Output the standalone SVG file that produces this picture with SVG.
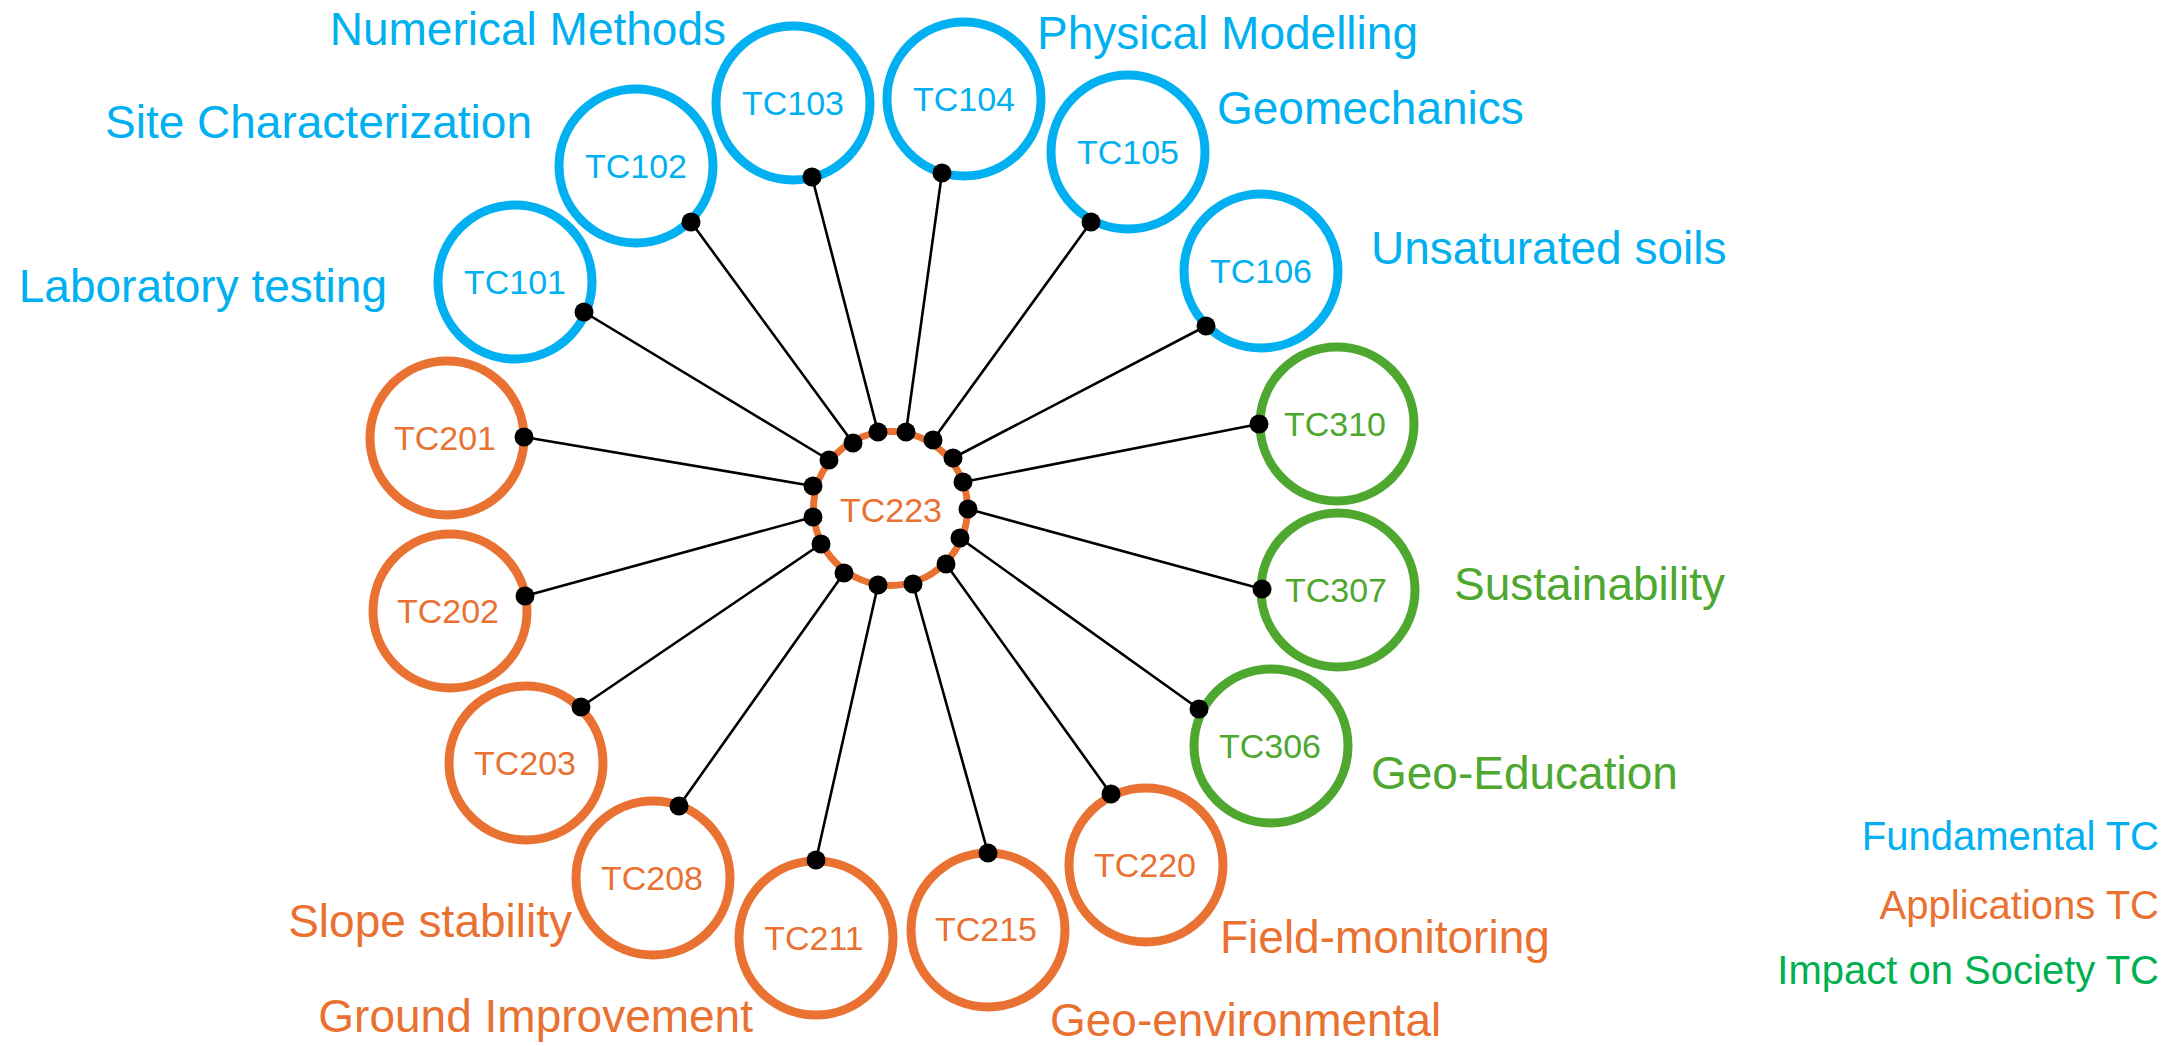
<svg xmlns="http://www.w3.org/2000/svg" width="2172" height="1046" viewBox="0 0 2172 1046">
<style>
.ring{fill:none;stroke-width:9}
.b{stroke:#00B0F0}.o{stroke:#E97132}.g{stroke:#4EA72E}
.tb{fill:#00B0F0}.to{fill:#E97132}.tg{fill:#4EA72E}.tl{fill:#00B050}
.id{font-family:"Liberation Sans",Arial,sans-serif;font-size:34px;text-anchor:middle}
.lab{font-family:"Liberation Sans",Arial,sans-serif;font-size:46px}
.leg{font-family:"Liberation Sans",Arial,sans-serif;font-size:40px;text-anchor:end}
.e{text-anchor:end}
.ln{stroke:#000;stroke-width:2.6;fill:none}
.dot{fill:#000}
</style>
<rect width="2172" height="1046" fill="#fff"/>
<g id="TC223"><circle cx="890.5" cy="508.5" r="77" fill="none" stroke="#E97132" stroke-width="7"/><text class="id to" x="891" y="522">TC223</text></g>
<g id="TC101"><circle class="ring b" cx="515" cy="282" r="77"/><text class="id tb" x="515" y="294">TC101</text></g>
<g id="TC102"><circle class="ring b" cx="636" cy="166" r="77"/><text class="id tb" x="636" y="178">TC102</text></g>
<g id="TC103"><circle class="ring b" cx="793" cy="103" r="77"/><text class="id tb" x="793" y="115">TC103</text></g>
<g id="TC104"><circle class="ring b" cx="964" cy="99" r="77"/><text class="id tb" x="964" y="111">TC104</text></g>
<g id="TC105"><circle class="ring b" cx="1128" cy="152" r="77"/><text class="id tb" x="1128" y="164">TC105</text></g>
<g id="TC106"><circle class="ring b" cx="1261" cy="271" r="77"/><text class="id tb" x="1261" y="283">TC106</text></g>
<g id="TC310"><circle class="ring g" cx="1337" cy="424" r="77"/><text class="id tg" x="1335" y="436">TC310</text></g>
<g id="TC307"><circle class="ring g" cx="1338" cy="590" r="77"/><text class="id tg" x="1336" y="602">TC307</text></g>
<g id="TC306"><circle class="ring g" cx="1271" cy="746" r="77"/><text class="id tg" x="1270" y="758">TC306</text></g>
<g id="TC220"><circle class="ring o" cx="1146" cy="865" r="77"/><text class="id to" x="1145" y="877">TC220</text></g>
<g id="TC215"><circle class="ring o" cx="988" cy="930" r="77"/><text class="id to" x="986" y="941">TC215</text></g>
<g id="TC211"><circle class="ring o" cx="816" cy="938" r="77"/><text class="id to" x="814" y="950">TC211</text></g>
<g id="TC208"><circle class="ring o" cx="653" cy="878" r="77"/><text class="id to" x="652" y="890">TC208</text></g>
<g id="TC203"><circle class="ring o" cx="526" cy="763" r="77"/><text class="id to" x="525" y="775">TC203</text></g>
<g id="TC202"><circle class="ring o" cx="450" cy="611" r="77"/><text class="id to" x="448" y="623">TC202</text></g>
<g id="TC201"><circle class="ring o" cx="447" cy="438" r="77"/><text class="id to" x="445" y="450">TC201</text></g>
<g id="connectors">
<path class="ln" d="M584 312L829 460M691 222L853 443M812 177L878 432M942 173L906 432M1091 222L933 440M1206 326L953 458M1259 424L963 482M1262 589L968 509M1199 709L960 538M1111 794L946 564M988 853L913 584M816 860L878 585M679 806L844 573M581 707L821 544M525 596L813 517M524 437L813 486"/>
<g class="dot">
<circle cx="584" cy="312" r="9.5"/><circle cx="829" cy="460" r="9.5"/>
<circle cx="691" cy="222" r="9.5"/><circle cx="853" cy="443" r="9.5"/>
<circle cx="812" cy="177" r="9.5"/><circle cx="878" cy="432" r="9.5"/>
<circle cx="942" cy="173" r="9.5"/><circle cx="906" cy="432" r="9.5"/>
<circle cx="1091" cy="222" r="9.5"/><circle cx="933" cy="440" r="9.5"/>
<circle cx="1206" cy="326" r="9.5"/><circle cx="953" cy="458" r="9.5"/>
<circle cx="1259" cy="424" r="9.5"/><circle cx="963" cy="482" r="9.5"/>
<circle cx="1262" cy="589" r="9.5"/><circle cx="968" cy="509" r="9.5"/>
<circle cx="1199" cy="709" r="9.5"/><circle cx="960" cy="538" r="9.5"/>
<circle cx="1111" cy="794" r="9.5"/><circle cx="946" cy="564" r="9.5"/>
<circle cx="988" cy="853" r="9.5"/><circle cx="913" cy="584" r="9.5"/>
<circle cx="816" cy="860" r="9.5"/><circle cx="878" cy="585" r="9.5"/>
<circle cx="679" cy="806" r="9.5"/><circle cx="844" cy="573" r="9.5"/>
<circle cx="581" cy="707" r="9.5"/><circle cx="821" cy="544" r="9.5"/>
<circle cx="525" cy="596" r="9.5"/><circle cx="813" cy="517" r="9.5"/>
<circle cx="524" cy="437" r="9.5"/><circle cx="813" cy="486" r="9.5"/>
</g>
</g>
<g id="labels">
<text class="lab tb e" x="726" y="45">Numerical Methods</text>
<text class="lab tb e" x="532" y="138">Site Characterization</text>
<text class="lab tb e" x="387" y="302">Laboratory testing</text>
<text class="lab tb" x="1037" y="49">Physical Modelling</text>
<text class="lab tb" x="1217" y="124">Geomechanics</text>
<text class="lab tb" x="1371" y="264">Unsaturated soils</text>
<text class="lab tg" x="1454" y="600">Sustainability</text>
<text class="lab tg" x="1371" y="789">Geo-Education</text>
<text class="lab to" x="1220" y="953">Field-monitoring</text>
<text class="lab to" x="1050" y="1036">Geo-environmental</text>
<text class="lab to e" x="572" y="937">Slope stability</text>
<text class="lab to e" x="753" y="1032">Ground Improvement</text>
</g>
<g id="legend">
<text class="leg tb" x="2159" y="850">Fundamental TC</text>
<text class="leg to" x="2159" y="919">Applications TC</text>
<text class="leg tl" x="2159" y="984">Impact on Society TC</text>
</g>
</svg>
